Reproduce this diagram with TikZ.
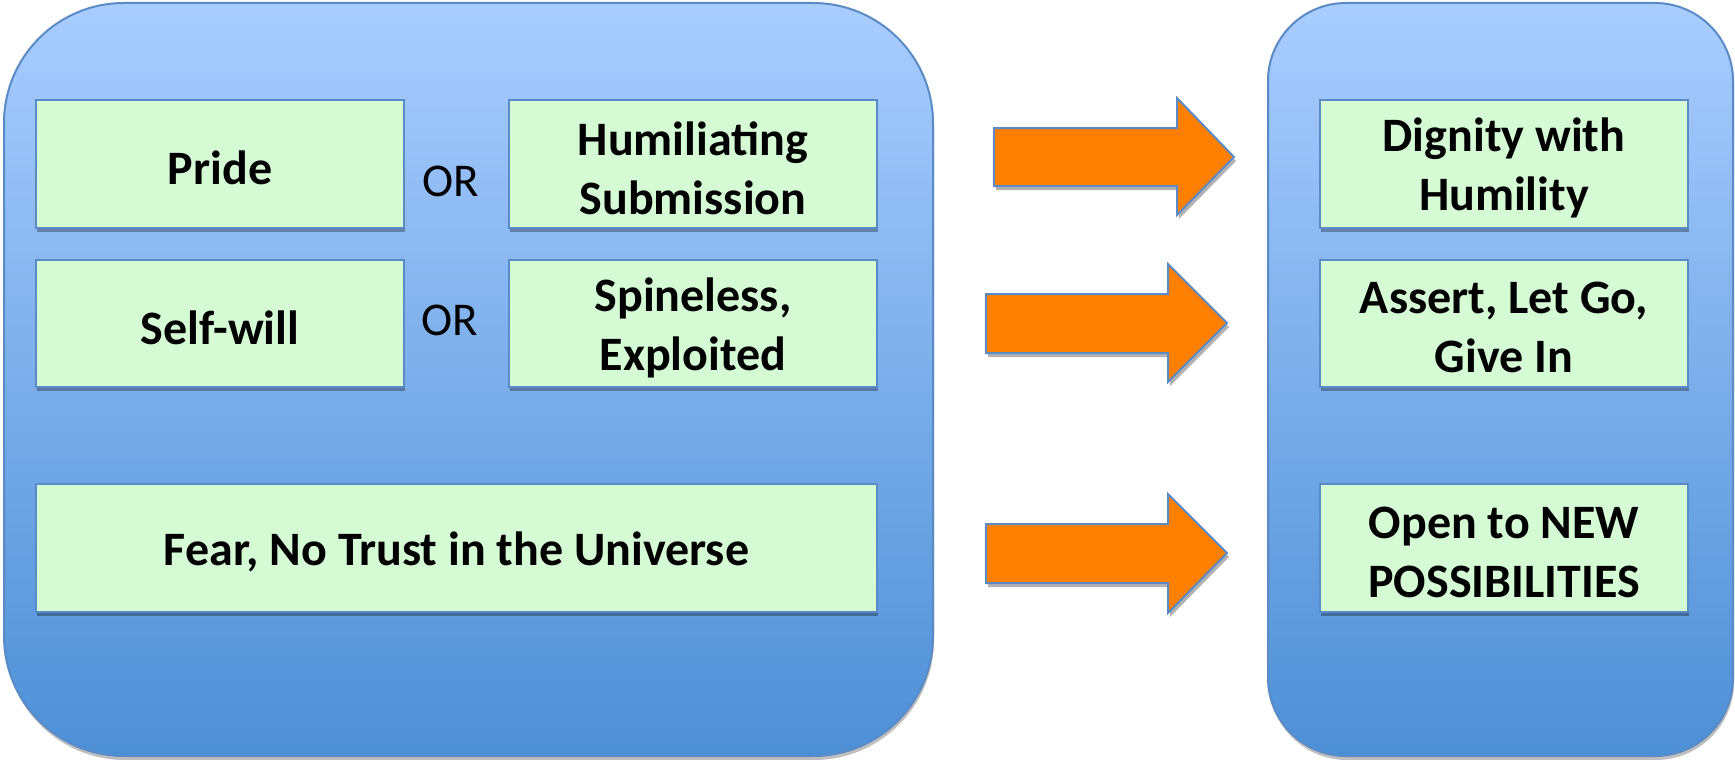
\documentclass[tikz,border=0pt]{standalone}
\usepackage{fontspec}
\setmainfont{Carlito}
\usetikzlibrary{shadows}
\definecolor{paneltop}{HTML}{A9CDFF}
\definecolor{panelbot}{HTML}{4D8FD6}
\definecolor{edgeblue}{HTML}{5B8BC6}
\definecolor{boxfill}{HTML}{D5FBD5}
\definecolor{arroworange}{HTML}{FF7F00}
\tikzset{
  panel/.style={draw=edgeblue, line width=2pt, top color=paneltop, bottom color=panelbot,
    drop shadow={shadow xshift=1pt, shadow yshift=-4pt, opacity=0.25, fill=black}},
  gbox/.style={draw=edgeblue, line width=2pt, fill=boxfill, rectangle, inner sep=0pt,
    minimum width=368pt, minimum height=128pt,
    drop shadow={shadow xshift=1pt, shadow yshift=-4pt, opacity=0.3, fill=black}},
  btext/.style={inner sep=0pt, align=center, font=\fontsize{48}{59}\selectfont\bfseries},
  ortext/.style={inner sep=0pt, font=\fontsize{47}{57}\selectfont},
  bigarrow/.style={draw=edgeblue, line width=2pt, fill=arroworange, line join=miter,
    drop shadow={shadow xshift=2pt, shadow yshift=-4pt, opacity=0.3, fill=black}}
}
\begin{document}
\begin{tikzpicture}[x=1pt, y=-1pt]
\useasboundingbox[fill=white] (0,0) rectangle (1735,760);
% panels
\path[panel, rounded corners=120pt] (4,3) rectangle (933,756);
\path[panel, rounded corners=78pt] (1268,3) rectangle (1733,756);
% left boxes
\node[gbox] (pride) at (220,164) {};
\node[btext] (pridet) at ([yshift=-4pt]pride.center) {Pride};
\node[ortext] (or1) at (451,181) {OR};
\node[gbox] (humil) at (693,164) {};
\node[btext] (humilt) at ([yshift=-4pt]humil.center) {Humiliating\\Submission};
\node[gbox, minimum height=127pt] (self) at (220,323.5) {};
\node[btext] (selft) at ([yshift=-4pt]self.center) {Self-will};
\node[ortext] (or2) at (450,320) {OR};
\node[gbox, minimum height=127pt] (spine) at (693,323.5) {};
\node[btext] (spinet) at ([yshift=-4pt]spine.center) {Spineless,\\Exploited};
\node[gbox, minimum width=841pt] (fear) at (456.5,548) {};
\node[btext] (feart) at ([yshift=-4pt]fear.center) {Fear, No Trust in the Universe};
% right boxes
\node[gbox] (dign) at (1504,164) {};
\node[btext] (dignt) at ([yshift=-4pt]dign.center) {Dignity with\\Humility};
\node[gbox, minimum height=127pt] (assert) at (1504,323.5) {};
\node[btext] (assertt) at ([yshift=-4pt]assert.center) {Assert, Let Go,\\Give In};
\node[gbox] (open) at (1504,548) {};
\node[btext] (opent) at ([yshift=-4pt]open.center) {Open to NEW\\POSSIBILITIES};
% arrows
\path[bigarrow] (994,128) -- (1177,128) -- (1177,98) -- (1234,157) -- (1177,215) -- (1177,186) -- (994,186) -- cycle;
\path[bigarrow] (986,294) -- (1168,294) -- (1168,264) -- (1227,323) -- (1168,382) -- (1168,353) -- (986,353) -- cycle;
\path[bigarrow] (986,524) -- (1168,524) -- (1168,494) -- (1227,553) -- (1168,613) -- (1168,583) -- (986,583) -- cycle;
\end{tikzpicture}
\end{document}
